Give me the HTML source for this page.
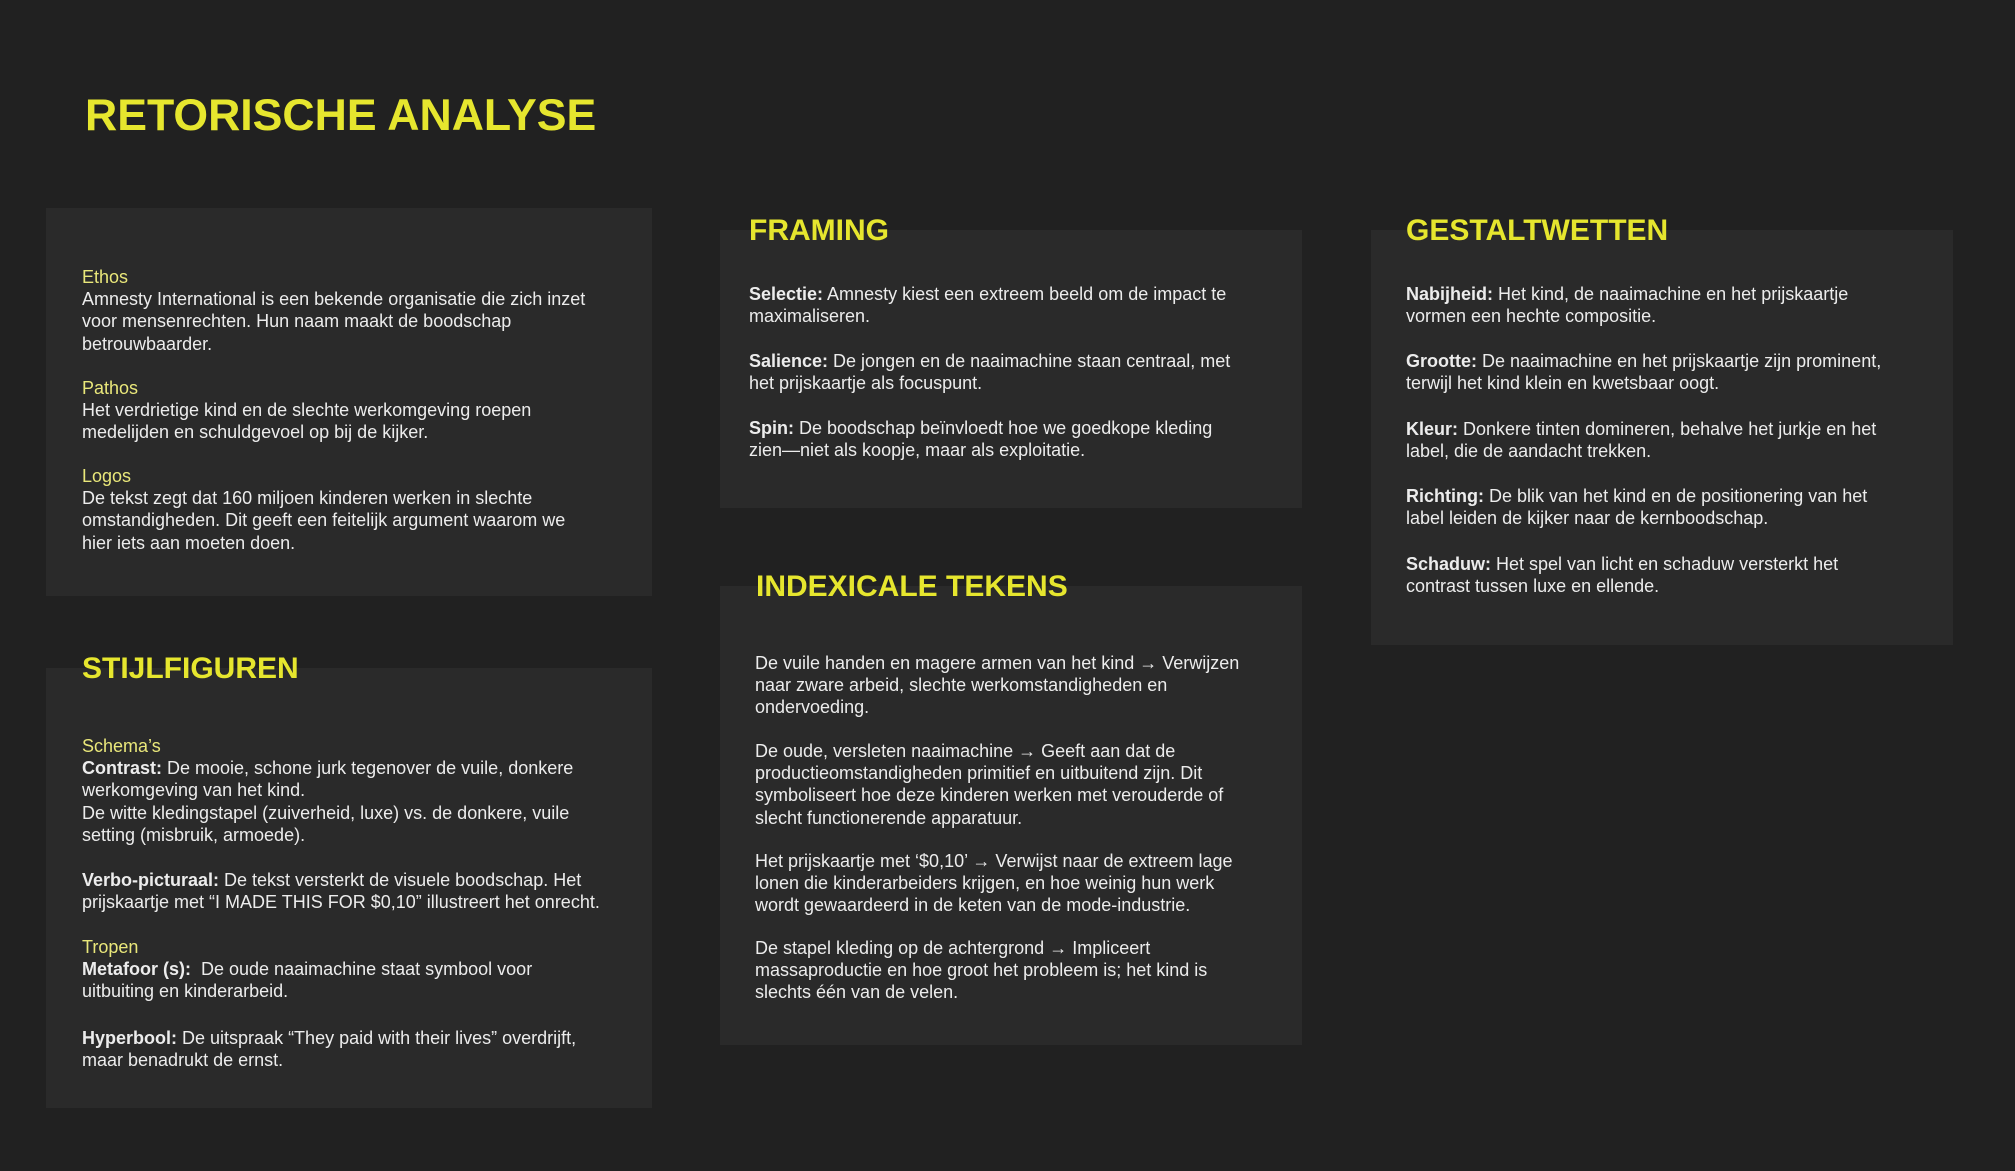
<!DOCTYPE html>
<html><head><meta charset="utf-8"><style>
body{margin:0;width:2015px;height:1171px;background:#212121;position:relative;overflow:hidden;font-family:"Liberation Sans",Arial,sans-serif;}
.box{position:absolute;background:#2a2a2a;}
.h{position:absolute;color:#e6e62e;font-weight:bold;font-size:30px;line-height:30px;white-space:nowrap;}
.p{position:absolute;color:#ececec;font-size:18px;line-height:22.2px;white-space:nowrap;}
.p b{font-weight:bold;}
.y{color:#e9e77a;}
</style></head><body>
<div class="h" style="left:85px;top:94px;font-size:44.6px;line-height:44px;">RETORISCHE ANALYSE</div>

<div class="box" style="left:46px;top:208px;width:606px;height:388px;"></div>
<div class="p" style="left:82px;top:266px;"><span class="y">Ethos</span><br>Amnesty International is een bekende organisatie die zich inzet<br>voor mensenrechten. Hun naam maakt de boodschap<br>betrouwbaarder.</div>
<div class="p" style="left:82px;top:377px;"><span class="y">Pathos</span><br>Het verdrietige kind en de slechte werkomgeving roepen<br>medelijden en schuldgevoel op bij de kijker.</div>
<div class="p" style="left:82px;top:465px;"><span class="y">Logos</span><br>De tekst zegt dat 160 miljoen kinderen werken in slechte<br>omstandigheden. Dit geeft een feitelijk argument waarom we<br>hier iets aan moeten doen.</div>

<div class="box" style="left:46px;top:668px;width:606px;height:440px;"></div>
<div class="h" style="left:82px;top:654px;">STIJLFIGUREN</div>
<div class="p" style="left:82px;top:735px;"><span class="y">Schema’s</span><br><b>Contrast:</b> De mooie, schone jurk tegenover de vuile, donkere<br>werkomgeving van het kind.<br>De witte kledingstapel (zuiverheid, luxe) vs. de donkere, vuile<br>setting (misbruik, armoede).</div>
<div class="p" style="left:82px;top:869px;"><b>Verbo-picturaal:</b> De tekst versterkt de visuele boodschap. Het<br>prijskaartje met “I MADE THIS FOR $0,10” illustreert het onrecht.</div>
<div class="p" style="left:82px;top:936px;"><span class="y">Tropen</span><br><b>Metafoor (s):</b>&nbsp; De oude naaimachine staat symbool voor<br>uitbuiting en kinderarbeid.</div>
<div class="p" style="left:82px;top:1027px;"><b>Hyperbool:</b> De uitspraak “They paid with their lives” overdrijft,<br>maar benadrukt de ernst.</div>

<div class="box" style="left:720px;top:230px;width:582px;height:278px;"></div>
<div class="h" style="left:749px;top:216px;">FRAMING</div>
<div class="p" style="left:749px;top:283px;"><b>Selectie:</b> Amnesty kiest een extreem beeld om de impact te<br>maximaliseren.</div>
<div class="p" style="left:749px;top:350px;"><b>Salience:</b> De jongen en de naaimachine staan centraal, met<br>het prijskaartje als focuspunt.</div>
<div class="p" style="left:749px;top:417px;"><b>Spin:</b> De boodschap beïnvloedt hoe we goedkope kleding<br>zien—niet als koopje, maar als exploitatie.</div>

<div class="box" style="left:720px;top:586px;width:582px;height:459px;"></div>
<div class="h" style="left:756px;top:572px;">INDEXICALE TEKENS</div>
<div class="p" style="left:755px;top:652px;">De vuile handen en magere armen van het kind → Verwijzen<br>naar zware arbeid, slechte werkomstandigheden en<br>ondervoeding.</div>
<div class="p" style="left:755px;top:740px;">De oude, versleten naaimachine → Geeft aan dat de<br>productieomstandigheden primitief en uitbuitend zijn. Dit<br>symboliseert hoe deze kinderen werken met verouderde of<br>slecht functionerende apparatuur.</div>
<div class="p" style="left:755px;top:850px;">Het prijskaartje met ‘$0,10’ → Verwijst naar de extreem lage<br>lonen die kinderarbeiders krijgen, en hoe weinig hun werk<br>wordt gewaardeerd in de keten van de mode-industrie.</div>
<div class="p" style="left:755px;top:937px;">De stapel kleding op de achtergrond → Impliceert<br>massaproductie en hoe groot het probleem is; het kind is<br>slechts één van de velen.</div>

<div class="box" style="left:1371px;top:230px;width:582px;height:415px;"></div>
<div class="h" style="left:1406px;top:216px;">GESTALTWETTEN</div>
<div class="p" style="left:1406px;top:283px;"><b>Nabijheid:</b> Het kind, de naaimachine en het prijskaartje<br>vormen een hechte compositie.</div>
<div class="p" style="left:1406px;top:350px;"><b>Grootte:</b> De naaimachine en het prijskaartje zijn prominent,<br>terwijl het kind klein en kwetsbaar oogt.</div>
<div class="p" style="left:1406px;top:418px;"><b>Kleur:</b> Donkere tinten domineren, behalve het jurkje en het<br>label, die de aandacht trekken.</div>
<div class="p" style="left:1406px;top:485px;"><b>Richting:</b> De blik van het kind en de positionering van het<br>label leiden de kijker naar de kernboodschap.</div>
<div class="p" style="left:1406px;top:553px;"><b>Schaduw:</b> Het spel van licht en schaduw versterkt het<br>contrast tussen luxe en ellende.</div>
</body></html>
